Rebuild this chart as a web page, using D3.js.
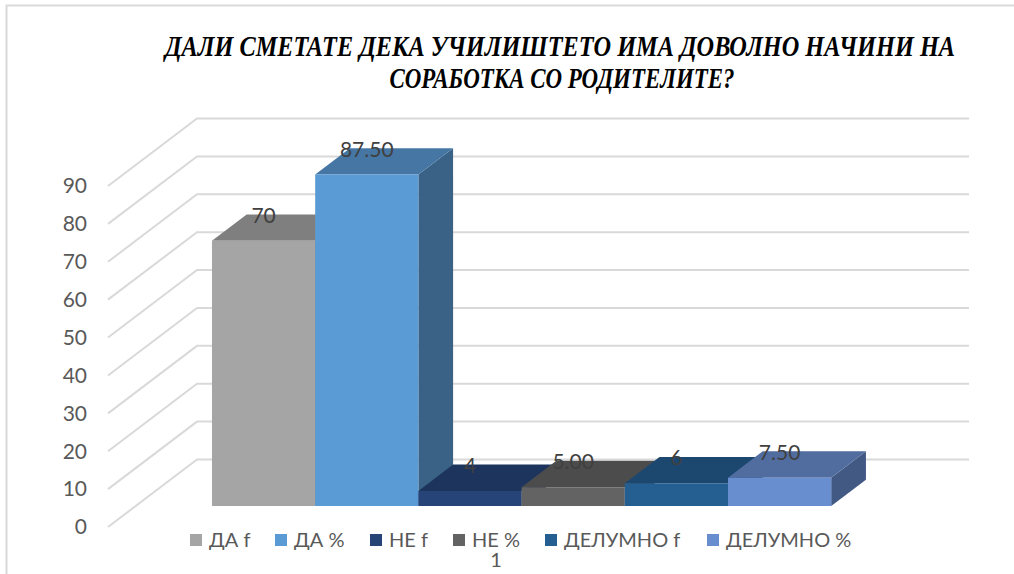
<!DOCTYPE html>
<html><head><meta charset="utf-8">
<script src="https://cdn.jsdelivr.net/npm/d3@7"></script>
<style>body{margin:0;background:#fff}svg{display:block}</style>
</head><body>
<svg id="c" width="1014" height="574"></svg>
<script>
const titleLines = ["ДАЛИ СМЕТАТЕ ДЕКА УЧИЛИШТЕТО ИМА ДОВОЛНО НАЧИНИ НА", "СОРАБОТКА СО РОДИТЕЛИТЕ?"];
const category = "1";
const series = ["ДА f", "ДА %", "НЕ f", "НЕ %", "ДЕЛУМНО f", "ДЕЛУМНО %"];
const values = [70, 87.5, 4, 5, 6, 7.5];
const valueLabels = ["70", "87.50", "4", "5.00", "6", "7.50"];
const colors = ["#A5A5A5", "#5B9BD5", "#264478", "#636363", "#255E91", "#698ED0"];
const yTicks = [0, 10, 20, 30, 40, 50, 60, 70, 80, 90];

const svg = d3.select("#c");
const grid = "#d9d9d9", txt = "#595959";

// border
svg.append("rect").attr("x", 6.5).attr("y", 5.5).attr("width", 1100).attr("height", 700)
  .attr("fill", "none").attr("stroke", grid).attr("stroke-width", 2);

// title
titleLines.forEach((t, i) => {
  svg.append("text").attr("x", [560, 562][i]).attr("y", [56, 88][i])
    .attr("text-anchor", "middle").attr("font-family", "Liberation Serif")
    .attr("font-weight", "bold").attr("font-style", "italic").attr("font-size", 30)
    .attr("textLength", [790, 345][i]).attr("lengthAdjust", "spacingAndGlyphs")
    .attr("fill", "#000").text(t);
});

// projection
const y = d3.scaleLinear().domain([0, 90]).range([527, 186]);
const x = d3.scaleLinear().domain([0, 1]).range([108, 880]);   // category span at front
const DX = 89, DY = -67.5;
const P = (fx, v, t) => [x(fx) + DX * t, y(v) + DY * t];

// back gridlines and side-wall diagonals
yTicks.forEach(v => {
  const a = P(0, v, 0), b = P(0, v, 1), c = P(1, v, 1);
  svg.append("path").attr("d", `M${a}L${b}L${c}`).attr("fill", "none")
    .attr("stroke", grid).attr("stroke-width", 2);
  svg.append("text").attr("x", 87).attr("y", a[1]).attr("dy", "0.35em")
    .attr("text-anchor", "end").attr("font-family", "Lato").attr("font-size", 21)
    .attr("fill", txt).text(v);
});

// bars
const band = d3.scaleBand().domain(series).range([0, 1]).paddingInner(0).paddingOuter(0.74);
const t0 = 0.31, t1 = 0.70;
series.forEach((s, i) => {
  const c = d3.color(colors[i]);
  const top = d3.rgb(c.r * 0.77, c.g * 0.77, c.b * 0.77);
  const side = d3.rgb(c.r * 0.63, c.g * 0.63, c.b * 0.63);
  const l = band(s), r = band(s) + band.bandwidth(), v = values[i];
  const fbl = P(l, 0, t0), fbr = P(r, 0, t0), ftl = P(l, v, t0), ftr = P(r, v, t0);
  const bbr = P(r, 0, t1), btl = P(l, v, t1), btr = P(r, v, t1);
  svg.append("path").attr("d", `M${fbr}L${bbr}L${btr}L${ftr}Z`).attr("fill", side);
  svg.append("path").attr("d", `M${ftl}L${ftr}L${btr}L${btl}Z`).attr("fill", top);
  svg.append("path").attr("d", `M${fbl}L${fbr}L${ftr}L${ftl}Z`).attr("fill", c);
});
// value labels
series.forEach((s, i) => {
  const cx = x(band(s) + band.bandwidth() / 2) + DX * t0;
  const ty = P(0, values[i], t1)[1];
  svg.append("text").attr("x", cx).attr("y", ty + 1).attr("dy", "0.35em")
    .attr("text-anchor", "middle").attr("font-family", "Lato").attr("font-size", 21)
    .attr("fill", "#404040").text(valueLabels[i]);
});

// legend
const legX = [190, 275, 370, 453, 545, 707];
series.forEach((s, i) => {
  svg.append("rect").attr("x", legX[i]).attr("y", 534).attr("width", 12).attr("height", 12)
    .attr("fill", colors[i]);
  svg.append("text").attr("x", legX[i] + 19).attr("y", 547).attr("font-family", "Lato")
    .attr("font-size", 20).attr("fill", txt).text(s);
});
// category label
svg.append("text").attr("x", 496).attr("y", 567).attr("text-anchor", "middle")
  .attr("font-family", "Lato").attr("font-size", 20).attr("fill", txt).text(category);
</script>
</body></html>
